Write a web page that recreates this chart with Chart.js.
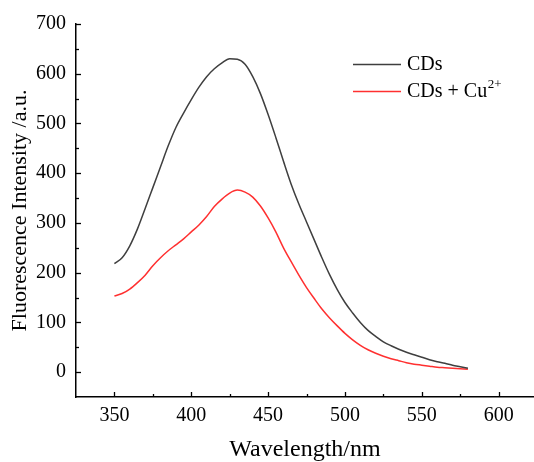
<!DOCTYPE html>
<html><head><meta charset="utf-8">
<script src="https://cdn.jsdelivr.net/npm/chart.js@4/dist/chart.umd.min.js"></script>
<style>html,body{margin:0;padding:0;background:#fff}canvas{display:block}</style>
</head><body>
<canvas id="c" width="534" height="462"></canvas>
<script>
const wavelengths = [350,355,360,365,370,375,380,385,390,395,400,405,410,415,420,425,430,435,440,445,450,455,460,465,470,475,480,485,490,495,500,505,510,515,520,525,530,535,540,545,550,555,560,565,570,575,580];
const cds = [218,230,254,288,329,371,413,455,492,521,548,573,594,610,622,630,629,619,594,560,518,472,424,378,338,302,266,230,196,166,140,119,100,84,72,61,53,46,40,35,30,25,21,18,14,11,8];
const cdsCu = [153,158,167,180,195,214,230,244,256,268,282,296,313,333,348,360,366,362,352,334,310,282,250,222,195,170,148,127,109,93,78,65,54,45,38,32,27,23,19,16,14,12,10,9,8,7,6];
const seriesLabels = ['CDs', 'CDs + Cu'];
const seriesSup = ['', '2+'];
const seriesColors = ['#3f3f3f', '#ff3030'];
const xTickLabels = [350,400,450,500,550,600];
const xMinorTicks = [375,425,475,525,575];
const yTickLabels = [0,100,200,300,400,500,600,700];
const yMinorTicks = [50,150,250,350,450,550,650];
const xTitle = 'Wavelength/nm';
const yTitle = 'Fluorescence Intensity /a.u.';

const SERIF = "'Liberation Serif', 'Times New Roman', serif";
Chart.defaults.font.family = SERIF;
Chart.defaults.color = '#000';

const inwardTicks = {
  id: 'inwardTicks',
  afterDraw(chart) {
    const ctx = chart.ctx, xs = chart.scales.x, ys = chart.scales.y, a = chart.chartArea;
    ctx.save();
    ctx.strokeStyle = '#000';
    ctx.lineWidth = 1.3;
    const seg = (x1, y1, x2, y2) => { ctx.beginPath(); ctx.moveTo(x1, y1); ctx.lineTo(x2, y2); ctx.stroke(); };
    xTickLabels.forEach(v => { const p = Math.round(xs.getPixelForValue(v)) + 0.5; seg(p, a.bottom, p, a.bottom - 5); });
    xMinorTicks.forEach(v => { const p = Math.round(xs.getPixelForValue(v)) + 0.5; seg(p, a.bottom, p, a.bottom - 3); });
    yTickLabels.forEach(v => { const p = Math.round(ys.getPixelForValue(v)) + 0.5; seg(a.left, p, a.left + 5, p); });
    yMinorTicks.forEach(v => { const p = Math.round(ys.getPixelForValue(v)) + 0.5; seg(a.left, p, a.left + 3, p); });
    // legend
    const lx = 353, ly = 64, gap = 27;
    chart.data.datasets.forEach((ds, i) => {
      const y = ly + i * gap;
      ctx.strokeStyle = ds.borderColor;
      ctx.lineWidth = 1.5;
      seg(lx, y + 0.5, lx + 48, y + 0.5);
      ctx.fillStyle = '#000';
      ctx.font = "20px " + SERIF;
      ctx.textBaseline = 'middle';
      ctx.textAlign = 'left';
      ctx.fillText(ds.label, lx + 54, y + 1);
      if (seriesSup[i]) {
        const w = ctx.measureText(ds.label).width;
        ctx.font = "13px " + SERIF;
        ctx.fillText(seriesSup[i], lx + 54 + w + 0.5, y - 6);
      }
    });
    ctx.restore();
  }
};

new Chart(document.getElementById('c'), {
  type: 'line',
  data: {
    datasets: [
      { label: seriesLabels[0], data: wavelengths.map((x, i) => ({x, y: cds[i]})), borderColor: seriesColors[0], borderWidth: 1.5, pointRadius: 0, cubicInterpolationMode: 'monotone', fill: false },
      { label: seriesLabels[1], data: wavelengths.map((x, i) => ({x, y: cdsCu[i]})), borderColor: seriesColors[1], borderWidth: 1.5, pointRadius: 0, cubicInterpolationMode: 'monotone', fill: false }
    ]
  },
  options: {
    responsive: false,
    animation: false,
    layout: { padding: { top: 24, right: 0, bottom: 0, left: 0 } },
    plugins: { legend: { display: false }, tooltip: { enabled: false } },
    scales: {
      x: {
        type: 'linear', min: 325, max: 623,
        grid: { display: false, drawTicks: false },
        border: { display: true, color: '#000', width: 1.5 },
        ticks: { stepSize: 25, autoSkip: false, includeBounds: false, padding: 7, color: '#000',
          font: { family: SERIF, size: 20 },
          callback: v => xTickLabels.includes(v) ? String(v) : '' },
        title: { display: true, text: xTitle, font: { family: SERIF, size: 24, lineHeight: 1 }, padding: { top: 0, bottom: 0 } },
        afterFit(s) { s.height = 65; s.paddingLeft = 0; s.paddingRight = 0; }
      },
      y: {
        type: 'linear', min: -50, max: 700,
        grid: { display: false, drawTicks: false },
        border: { display: true, color: '#000', width: 1.5 },
        ticks: { stepSize: 50, autoSkip: false, padding: 10, color: '#000',
          font: { family: SERIF, size: 20 },
          callback: v => yTickLabels.includes(v) ? String(v) : '' },
        title: { display: true, text: yTitle, font: { family: SERIF, size: 22, lineHeight: 1 }, padding: { top: 9, bottom: 0 } },
        afterFit(s) { s.width = 76; s.paddingTop = 0; s.paddingBottom = 0; }
      }
    }
  },
  plugins: [inwardTicks]
});
</script>
</body></html>
